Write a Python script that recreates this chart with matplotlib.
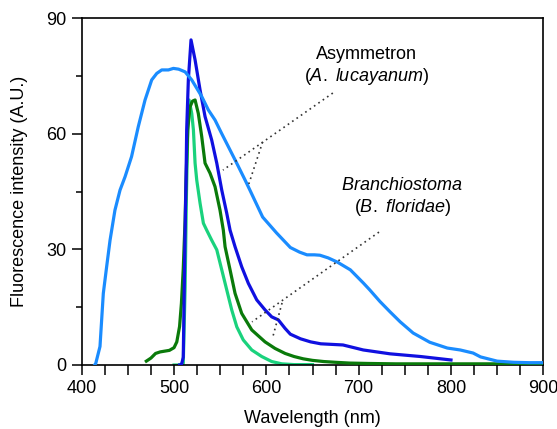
import matplotlib
matplotlib.use("Agg")
import matplotlib.pyplot as plt
from matplotlib.ticker import MultipleLocator

plt.rcParams['font.family'] = ['Liberation Sans', 'DejaVu Sans']
plt.rcParams['mathtext.fontset'] = 'custom'
plt.rcParams['mathtext.rm'] = 'Liberation Sans'
plt.rcParams['mathtext.it'] = 'Liberation Sans:italic'

# Asymmetron broad (light blue)
asym_broad_x = [414, 415.2, 419.8, 421.6, 423.4, 427, 430.7, 436, 441.5, 447, 454, 461.3, 468.6, 475.8, 481.3,
                486.7, 493.9, 499.3, 505, 512, 519.2, 530, 537.2, 544.4, 551.6, 558.8, 567.9, 577, 582, 596,
                611, 626, 636, 644, 652, 658, 667, 677, 691, 705, 712, 723, 734, 745, 759, 777, 796, 810, 824,
                832, 850, 868, 885, 900]
asym_broad_y = [0, 0.4, 4.8, 11.7, 18.6, 25.5, 32.4, 40.2, 45.4, 48.9, 54.1, 61.9, 68.8, 74, 75.7,
                76.6, 76.6, 77, 76.8, 76.1, 74, 69.7, 66.2, 63.6, 60.1, 56.7, 52.4, 48, 45.5, 38.4,
                34.3, 30.5, 29.3, 28.6, 28.6, 28.5, 27.8, 26.7, 24.7, 21.3, 19.5, 16.5, 13.8, 11.2, 8.3, 5.9,
                4.4, 3.9, 3.1, 2.1, 1.0, 0.7, 0.6, 0.6]

# Asymmetron narrow (dark blue)
asym_narrow_x = [506, 508, 510, 512, 513, 513.7, 515.5, 518.4, 522.8, 528.2, 533.6, 540.8, 546.3, 551.7, 557.1,
                 560.7, 566.1, 573.3, 580.5, 589.6, 598.6, 605.8, 613, 620.3, 626, 637, 648, 659, 683, 705, 734,
                 767, 800]
asym_narrow_y = [0, 0, 2, 35, 48, 61, 74, 84.4, 79.2, 71.4, 64.5, 58.4, 52.4, 45.4, 39.4,
                 35, 30.7, 25.5, 21.2, 16.9, 14.3, 12.5, 11.7, 9.5, 8, 6.8, 6, 5.5, 5.2, 3.9, 2.9,
                 2.2, 1.3]

# Branchiostoma (dark green)
bran_dark_x = [470, 475, 480, 485, 490, 495, 500, 503, 506, 508, 510, 512, 513, 514.8, 517.3, 520, 522.8, 526.3,
               530, 533.6, 539, 544.4, 549.8, 553.4, 555.3, 560.7, 566.1, 573.3, 584.2, 598.6, 609.4, 620.3,
               630, 640, 650, 662, 675, 690, 710, 740, 780, 820, 860, 900]
bran_dark_y = [1, 1.8, 3, 3.4, 3.6, 3.8, 4.5, 6, 10, 16, 25, 37.6, 48, 61, 67, 68.5, 68.8, 65.3,
               59.3, 52.4, 49.8, 46.3, 40.2, 35, 30.7, 24.7, 18.6, 13.4, 9.1, 6, 4.3, 3,
               2.2, 1.6, 1.2, 0.9, 0.7, 0.5, 0.4, 0.3, 0.3, 0.3, 0.3, 0.4]

# Branchiostoma (light green)
bran_light_x = [500, 505, 510, 512, 513.5, 515, 516.3, 519.2, 521, 522.8, 524.6, 528.2, 531.8, 535.4, 540.8,
                546.3, 551.7, 557.1, 562.5, 568, 575, 584.2, 595, 605.8, 616.7, 630, 650]
bran_light_y = [0, 0, 0.4, 20, 45, 62, 68.8, 65.3, 61, 52.4, 48, 42, 36.8, 35, 32.4,
                29.9, 24.7, 19.5, 14.3, 9.9, 6.5, 3.9, 2.2, 0.9, 0.3, 0.1, 0.1]

x_ticks = [400, 500, 600, 700, 800, 900]
y_ticks = [0, 30, 60, 90]

fig = plt.figure(figsize=(5.57, 4.29), dpi=100)
ax = fig.add_axes([0.1467, 0.1492, 0.8287, 0.8081])

lw = 2.3
ax.plot(bran_light_x, bran_light_y, color='#1ad27d', lw=lw, zorder=2)
ax.plot(bran_dark_x, bran_dark_y, color='#0a7a0a', lw=lw, zorder=3)
ax.plot(asym_narrow_x, asym_narrow_y, color='#1010e0', lw=lw, zorder=4)
ax.plot(asym_broad_x, asym_broad_y, color='#1a8cff', lw=lw, zorder=5)

# annotation leader lines (dotted)
dot = dict(color='#333333', lw=1.2, ls=(0, (1, 2.2)), zorder=6)
ax.plot([672, 553], [70.6, 50.6], **dot)
ax.plot([596, 581], [57.9, 47], **dot)
ax.plot([722, 584.5], [34.5, 11.2], **dot)
ax.plot([617, 607], [16.1, 7.3], **dot)

fs = 13
ax.text(708, 80.5, 'Asymmetron', ha='center', va='center', fontsize=fs)
ax.text(708, 75.0, r'($\mathit{A.}$ $\mathit{lucayanum}$)', ha='center', va='center', fontsize=fs)
ax.text(747, 46.7, r'$\mathit{Branchiostoma}$', ha='center', va='center', fontsize=fs)
ax.text(747, 41.0, r'($\mathit{B.}$ $\mathit{floridae}$)', ha='center', va='center', fontsize=fs)

ax.set_xlim(400, 900)
ax.set_ylim(0, 90)
ax.set_xticks(x_ticks)
ax.set_yticks(y_ticks)
ax.xaxis.set_minor_locator(MultipleLocator(25))
ax.yaxis.set_minor_locator(MultipleLocator(15))
ax.tick_params(axis='x', which='both', direction='out', length=7, width=1.1, labelsize=fs, pad=4)
ax.tick_params(axis='y', which='major', direction='out', length=7, width=1.1, labelsize=fs, pad=4)
ax.tick_params(axis='y', which='minor', direction='out', length=4, width=1.1)
for s in ax.spines.values():
    s.set_linewidth(1.2)
ax.set_xlabel('Wavelength (nm)', fontsize=fs, labelpad=9)
ax.set_ylabel('Fluorescence intensity (A.U.)', fontsize=fs, labelpad=13)

fig.savefig('out.png', dpi=100)
